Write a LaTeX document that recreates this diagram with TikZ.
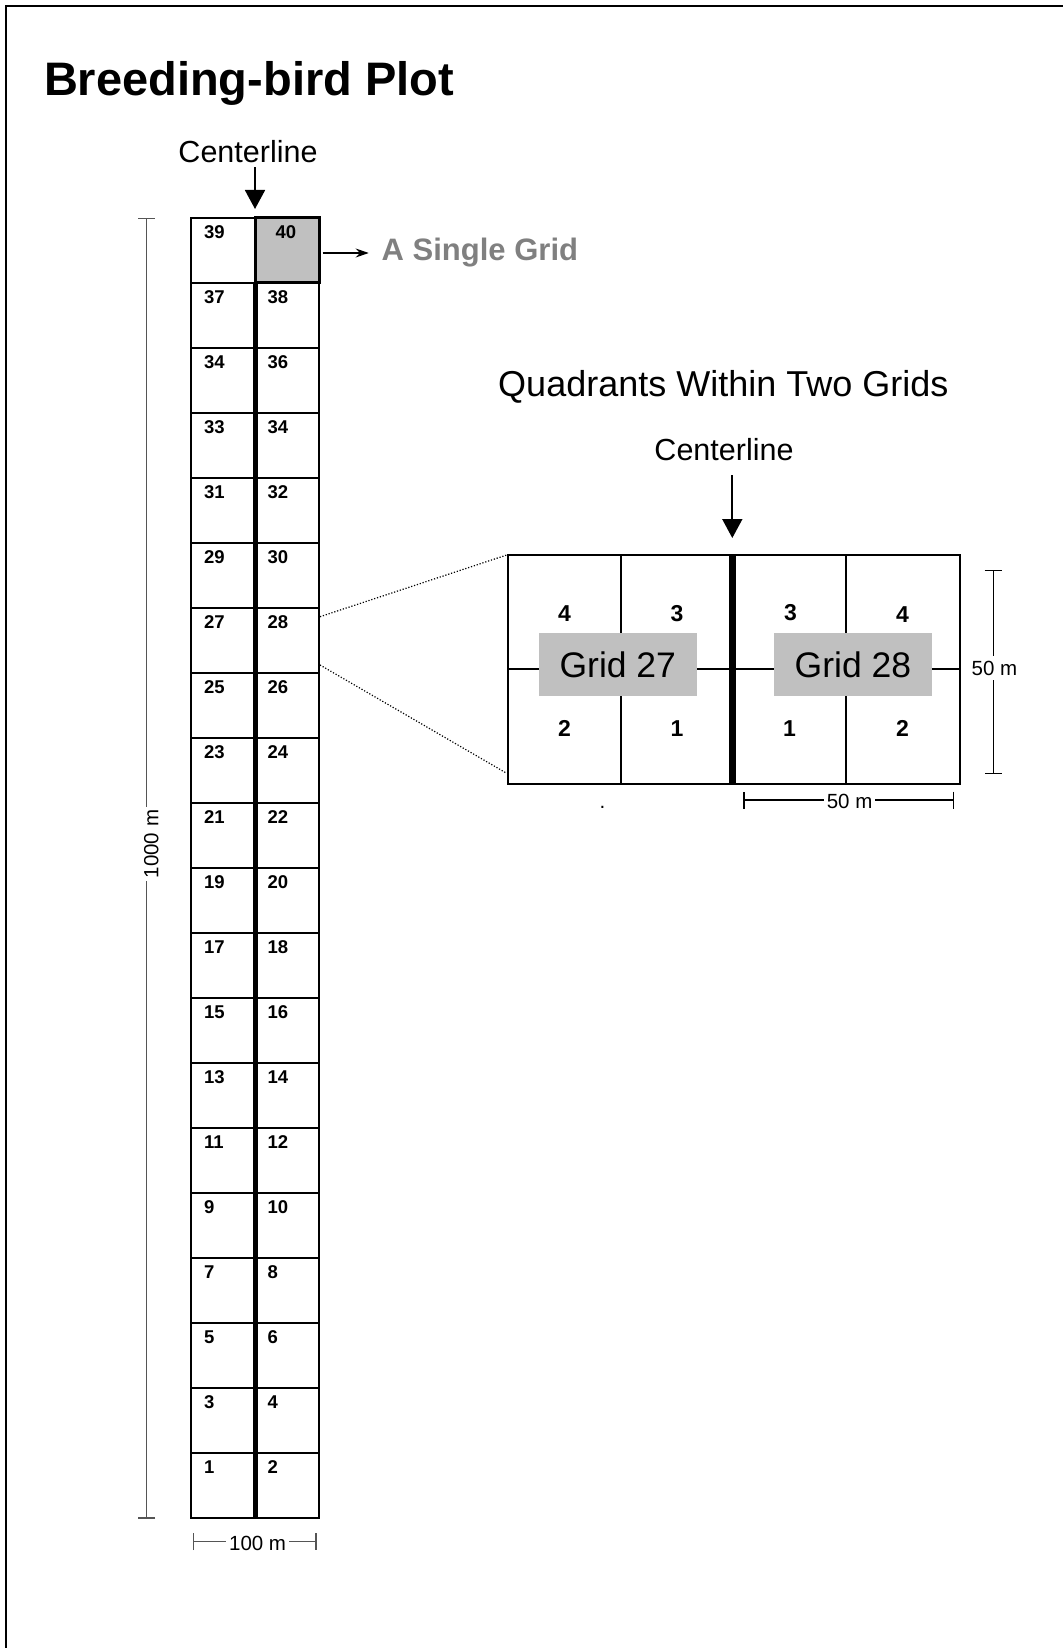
\documentclass[tikz,border=0pt]{standalone}
\usepackage{fontspec}
\setmainfont{Liberation Sans}
\usetikzlibrary{arrows.meta,positioning}
\definecolor{cellgray}{RGB}{192,192,192}
\definecolor{singlegray}{RGB}{128,128,128}
\definecolor{dimgray}{RGB}{85,85,85}
\begin{document}
\begin{tikzpicture}[x=1pt,y=-1pt,
    every node/.style={inner sep=0pt,outer sep=0pt},
    cellline/.style={line width=2pt},
    celllabel/.style={anchor=base west,font=\fontsize{18.5}{20}\selectfont\bfseries},
    quadnum/.style={anchor=base,font=\fontsize{23}{26}\selectfont\bfseries},
    gridtag/.style={fill=cellgray,minimum width=158pt,minimum height=62.5pt,font=\fontsize{35.5}{40}\selectfont},
    dimline/.style={line width=1.3pt,{Bar[width=17pt]}-{Bar[width=17pt]}},
    dimlabel/.style={fill=white,inner xsep=3pt,inner ysep=5pt,font=\fontsize{20.5}{24}\selectfont},
    downarrow/.style={line width=1.8pt,-{Triangle[length=19pt,width=20pt]}},
    zoomline/.style={line width=1.2pt,dash pattern=on 1.2pt off 1.8pt}]
  \useasboundingbox (0,0) rectangle (1063,1648);
  \draw[line width=2.2pt] (5.8,1648) -- (5.8,5.8) -- (1063,5.8);
  \node[anchor=base west,font=\fontsize{47}{50}\selectfont\bfseries] (title) at (44,95.5) {Breeding-bird Plot};

  \node[anchor=base,font=\fontsize{30.5}{34}\selectfont] (cl1) at (248,163) {Centerline};
  \coordinate (striptop) at (255,217.7);
  \draw[downarrow,shorten <=4pt,shorten >=8.7pt] (cl1.south -| striptop) -- (striptop);

  \node[draw,line width=3pt,fill=cellgray,minimum width=64pt,minimum height=65pt,anchor=north west] (c40) at (255,217.7) {};
  \foreach \a/\b [count=\i from 0] in {39/40,37/38,34/36,33/34,31/32,29/30,27/28,25/26,23/24,21/22,19/20,17/18,15/16,13/14,11/12,9/10,7/8,5/6,3/4,1/2} {
    \draw[cellline] (190.7,{217.7+65*\i}) rectangle (319,{282.7+65*\i});
    \node[celllabel] (left\i) at (204,{238.5+65*\i}) {\a};
    \node[celllabel] (right\i) at ({ifthenelse(\i==0,275.5,267.7)},{238.5+65*\i}) {\b};
  }
  \draw[line width=5pt] (255,282.7) -- (255,1517.7);

  \coordinate (sgfrom) at (322.7,253);
  \node[anchor=base west,text=singlegray,font=\fontsize{31}{34}\selectfont\bfseries] (single) at (381.7,260.5) {A Single Grid};
  \draw[line width=1.3pt,-{Stealth[length=13pt,width=9pt]},shorten >=13pt] (sgfrom) -- (sgfrom -| single.west);

  \coordinate (kmtop) at (146.5,217.7);
  \coordinate (kmbot) at (146.5,1518.5);
  \draw[dimline,draw=dimgray] (kmtop) -- (kmbot);
  \node[dimlabel,rotate=90,anchor=base] (kmlabel) at (158.3,844) {1000 m};
  \coordinate (hmleft) at (192.7,1541.7);
  \coordinate (hmright) at (316.7,1541.7);
  \draw[dimline,draw=dimgray] (hmleft) -- (hmright);
  \node[dimlabel,anchor=base] (hmlabel) at (257.6,1550) {100 m};

  \node[anchor=base,font=\fontsize{36}{40}\selectfont] (quadtitle) at (723.3,396.7) {Quadrants Within Two Grids};
  \node[anchor=base,font=\fontsize{30.5}{34}\selectfont] (cl2) at (724,460) {Centerline};
  \coordinate (boxtop) at (732.3,555);
  \draw[downarrow,shorten <=15pt,shorten >=17pt] (cl2.south -| boxtop) -- (boxtop);

  \draw[line width=2.2pt] (621,555) -- (621,784) (846,555) -- (846,784) (508,669) -- (960,669);
  \draw[line width=2.5pt] (508,555) rectangle (960,784);
  \draw[line width=7pt] (boxtop) -- (732.3,784);
  \node[gridtag] (g27) at (617.8,664.5) {Grid 27};
  \node[gridtag] (g28) at (852.9,664.5) {Grid 28};
  \node[quadnum] (q27d) at (564.6,621.7) {4};
  \node[quadnum] (q27c) at (677,621.7) {3};
  \node[quadnum] (q28c) at (790.4,620.7) {3};
  \node[quadnum] (q28d) at (902.5,622.7) {4};
  \node[quadnum] (q27b) at (564.6,736.7) {2};
  \node[quadnum] (q27a) at (677,736.7) {1};
  \node[quadnum] (q28a) at (789.6,736.7) {1};
  \node[quadnum] (q28b) at (902.5,736.7) {2};
  \node[anchor=base,font=\fontsize{20.5}{24}\selectfont] (stray) at (602.5,808) {.};

  \coordinate (z1) at (320,616.7);
  \coordinate (z2) at (506.7,555);
  \coordinate (z3) at (320,665);
  \coordinate (z4) at (506.7,773.3);
  \draw[zoomline] (z1) -- (z2) (z3) -- (z4);

  \coordinate (fvtop) at (993.2,570);
  \coordinate (fvbot) at (993.2,774);
  \draw[dimline] (fvtop) -- (fvbot);
  \node[dimlabel,anchor=base] (fvlabel) at (994.5,675) {50 m};
  \coordinate (fhleft) at (743.2,800);
  \coordinate (fhright) at (954.3,800);
  \draw[dimline] (fhleft) -- (fhright);
  \node[dimlabel,anchor=base] (fhlabel) at (849.6,808.3) {50 m};
\end{tikzpicture}
\end{document}
